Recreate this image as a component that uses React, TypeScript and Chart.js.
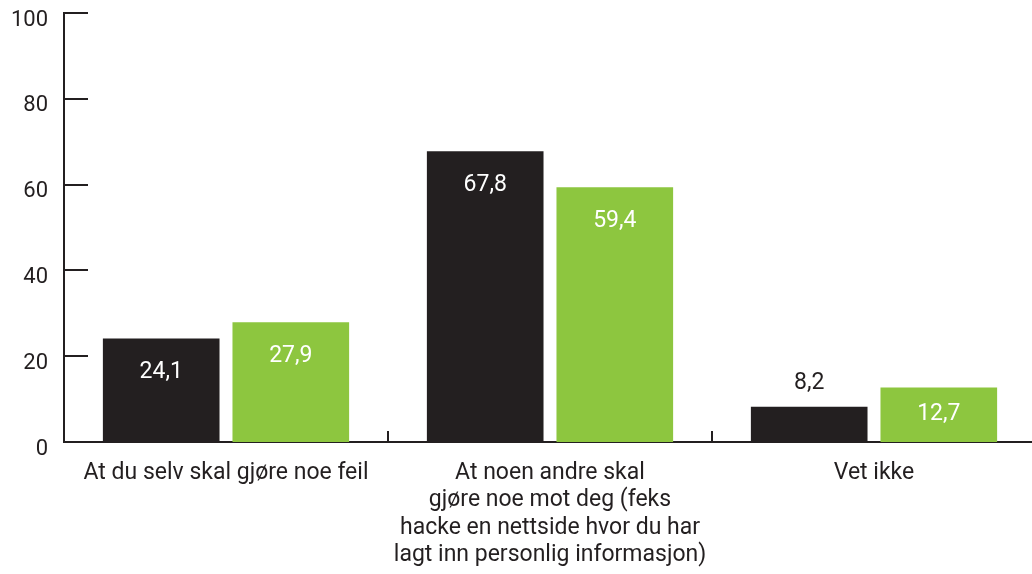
import React, { useEffect, useRef } from "react";
import { Chart, registerables } from "chart.js";

Chart.register(...registerables);

const categories: (string | string[])[] = [
  "At du selv skal gjøre noe feil",
  ["At noen andre skal", "gjøre noe mot deg (feks", "hacke en nettside hvor du har", "lagt inn personlig informasjon)"],
  "Vet ikke",
];
const seriesBlack = [24.1, 67.8, 8.2];
const seriesGreen = [27.9, 59.4, 12.7];
const yTicks = [0, 20, 40, 60, 80, 100];

const DARK = "#231f20";
const GREEN = "#8dc63f";
const FONT = "Roboto";

const fmt = (v: number) => v.toFixed(1).replace(".", ",");

const decorPlugin = {
  id: "decor",
  afterDatasetsDraw(chart: any) {
    const { ctx, chartArea, scales } = chart;
    const y = scales.y;
    const x = scales.x;
    ctx.save();
    ctx.strokeStyle = DARK;
    ctx.lineWidth = 2;
    for (const v of yTicks) {
      const py = Math.round(y.getPixelForValue(v));
      ctx.beginPath();
      ctx.moveTo(chartArea.left, py);
      ctx.lineTo(chartArea.left + 24, py);
      ctx.stroke();
    }
    for (let i = 1; i < categories.length; i++) {
      const px = Math.round((x.getPixelForValue(i - 1) + x.getPixelForValue(i)) / 2);
      ctx.beginPath();
      ctx.moveTo(px, chartArea.bottom);
      ctx.lineTo(px, chartArea.bottom - 11);
      ctx.stroke();
    }
    ctx.font = `23px ${FONT}`;
    ctx.textAlign = "center";
    ctx.textBaseline = "middle";
    chart.data.datasets.forEach((ds: any, di: number) => {
      const meta = chart.getDatasetMeta(di);
      meta.data.forEach((bar: any, i: number) => {
        const v = ds.data[i];
        const h = bar.base - bar.y;
        let ly: number;
        let color = "#ffffff";
        if (h >= 68) ly = bar.y + 34;
        else if (h >= 40) ly = bar.y + h / 2 - 1;
        else {
          ly = bar.y - 24;
          color = DARK;
        }
        ctx.fillStyle = color;
        ctx.fillText(fmt(v), bar.x, ly);
      });
    });
    ctx.restore();
  },
};

export default function App() {
  const ref = useRef<HTMLCanvasElement | null>(null);
  useEffect(() => {
    if (!ref.current) return;
    const chart = new Chart(ref.current, {
      type: "bar",
      data: {
        labels: categories,
        datasets: [
          { data: seriesBlack, backgroundColor: DARK, borderWidth: 0 },
          { data: seriesGreen, backgroundColor: GREEN, borderWidth: 0 },
        ],
      },
      options: {
        animation: false,
        responsive: false,
        layout: { padding: { top: 13, left: 0, right: 0, bottom: 0 } },
        plugins: { legend: { display: false }, tooltip: { enabled: false } },
        scales: {
          x: {
            grid: { display: false, drawTicks: false },
            border: { display: true, color: DARK, width: 2 },
            ticks: {
              color: DARK,
              padding: 18,
              font: { family: FONT, size: 23, lineHeight: 1.18 },
              maxRotation: 0,
              autoSkip: false,
            },
            afterFit(scale: any) {
              scale.height = 132;
              scale.paddingLeft = 0;
              scale.paddingRight = 0;
            },
          },
          y: {
            min: 0,
            max: 100,
            grid: { display: false, drawTicks: false },
            border: { display: true, color: DARK, width: 2 },
            ticks: {
              stepSize: 20,
              color: DARK,
              padding: 16,
              labelOffset: 7,
              font: { family: FONT, size: 22 },
            },
            afterFit(scale: any) {
              scale.width = 64;
              scale.paddingTop = 0;
              scale.paddingBottom = 0;
            },
          },
        },
      },
      plugins: [decorPlugin],
    });
    return () => chart.destroy();
  }, []);
  return (
    <div
      style={{
        position: "fixed",
        left: 0,
        top: 0,
        width: 1032,
        height: 574,
        overflow: "hidden",
        background: "#ffffff",
      }}
    >
      <canvas ref={ref} width={1036} height={574} style={{ display: "block" }} />
    </div>
  );
}
